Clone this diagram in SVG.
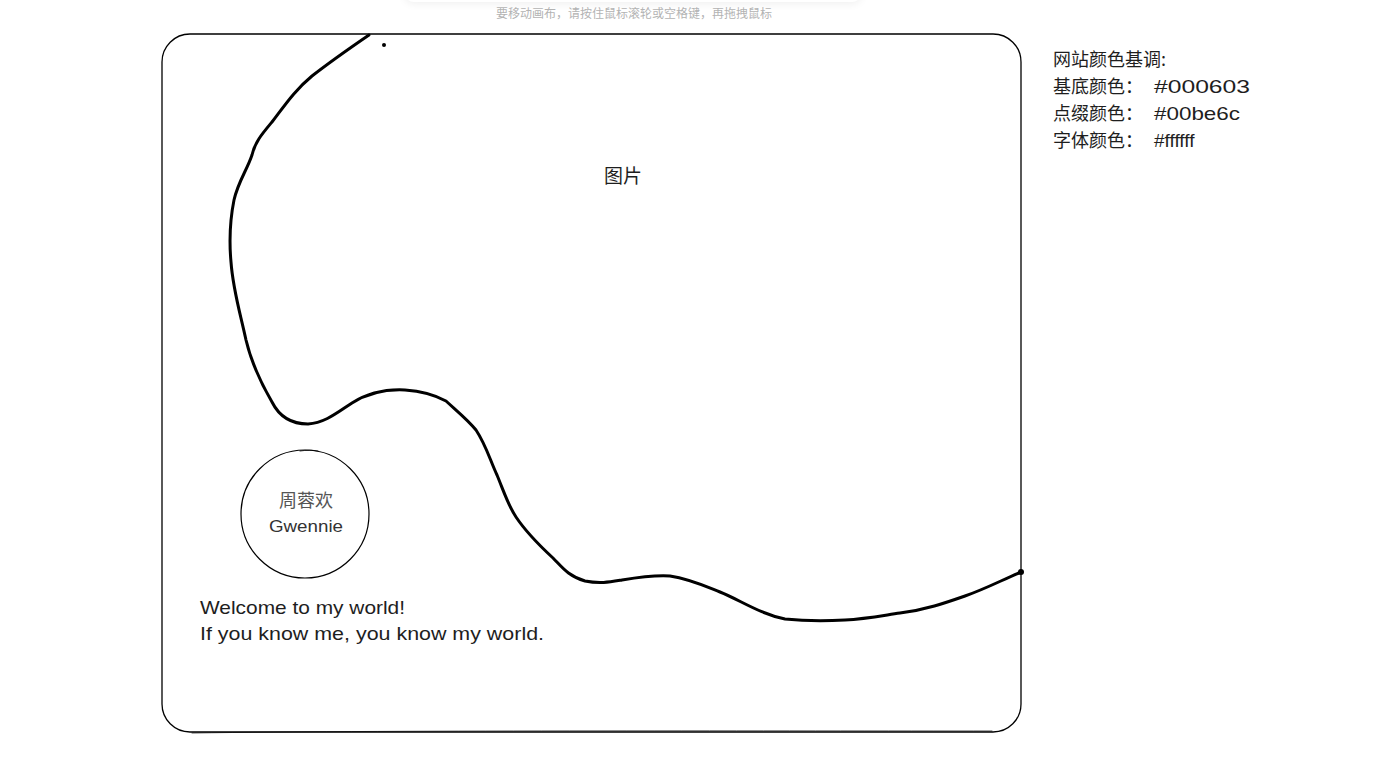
<svg xmlns="http://www.w3.org/2000/svg" width="1376" height="760" viewBox="0 0 1376 760">
<defs>
<style>
.cn{font-family:"Noto Sans CJK SC","Noto Sans",sans-serif;fill:#1e1e1e}
.hand{font-family:"Liberation Sans","Noto Sans CJK SC",sans-serif;fill:#1e1e1e}
.stroke{fill:none;stroke:#000;stroke-linecap:round;stroke-linejoin:round}
</style>
<filter id="sh" x="-10%" y="-200%" width="120%" height="500%"><feGaussianBlur stdDeviation="4"/></filter>
</defs>
<rect width="1376" height="760" fill="#fff"/>
<g id="toast">
<rect x="404" y="-20" width="458" height="24" rx="10" fill="#000" opacity="0.06" filter="url(#sh)"/>
<rect x="404" y="-20" width="458" height="22" rx="10" fill="#fff"/>
<text x="634" y="18" font-size="12" text-anchor="middle" class="cn" style="fill:#b3b3b3">要移动画布，请按住鼠标滚轮或空格键，再拖拽鼠标</text>
</g>
<g id="frame">
<rect x="162" y="34" width="859" height="698" rx="28" class="stroke" stroke-width="1.3"/>
<path d="M192 733 C400 730 800 731 992 731" class="stroke" stroke-width="0.7"/>
</g>
<g id="curve">
<path d="M369 35 C350 48 330 62 312 76 C295 90 285 105 272 122 C262 134 255 142 252 155 C247 170 238 182 234 200 C230 220 229 240 231 262 C233 290 240 312 246 340 C252 365 262 385 272 402 C280 418 292 424 308 424 C325 423 338 412 352 403 C368 393 385 389 405 390 C420 391 435 395 446 401 C458 412 468 420 476 430 C486 445 490 460 497 475 C504 492 508 505 516 517 C526 532 540 546 553 558 C562 567 568 576 585 581 C600 584 610 582 622 580 C640 577 655 575 670 576 C690 579 705 586 720 592 C740 600 760 614 785 619 C805 621 825 621 845 620 C865 619 880 616 900 613 C925 610 945 603 965 596 C985 589 1000 581 1021 572" class="stroke" stroke-width="3"/>
<circle cx="1021" cy="572" r="3" fill="#000"/>
<circle cx="384" cy="45" r="2" fill="#000"/>
</g>
<g id="image-label">
<text x="623" y="183" font-size="19" text-anchor="middle" class="cn">图片</text>
</g>
<g id="avatar">
<circle cx="305" cy="514" r="64" class="stroke" stroke-width="1.2"/>
<path d="M300 451 C307 450 312 450 318 451" class="stroke" stroke-width="0.8"/>
<text x="306" y="507" font-size="18" text-anchor="middle" class="cn" style="fill:#555">周蓉欢</text>
<text x="269" y="532" font-size="17" textLength="74" lengthAdjust="spacingAndGlyphs" class="hand" style="fill:#333">Gwennie</text>
</g>
<g id="welcome">
<text x="200" y="614" font-size="19" textLength="205" lengthAdjust="spacingAndGlyphs" class="hand">Welcome to my world!</text>
<text x="200" y="640" font-size="19" textLength="344" lengthAdjust="spacingAndGlyphs" class="hand">If you know me, you know my world.</text>
</g>
<g id="palette">
<text x="1053" y="66" font-size="18" class="cn">网站颜色基调:</text>
<text x="1053" y="93" font-size="18" class="cn">基底颜色：</text>
<text x="1154" y="93" font-size="19" textLength="96" lengthAdjust="spacingAndGlyphs" class="hand">#000603</text>
<text x="1053" y="120" font-size="18" class="cn">点缀颜色：</text>
<text x="1154" y="120" font-size="19" textLength="86" lengthAdjust="spacingAndGlyphs" class="hand">#00be6c</text>
<text x="1053" y="147" font-size="18" class="cn">字体颜色：</text>
<text x="1154" y="147" font-size="19" class="hand">#ffffff</text>
</g>
</svg>
